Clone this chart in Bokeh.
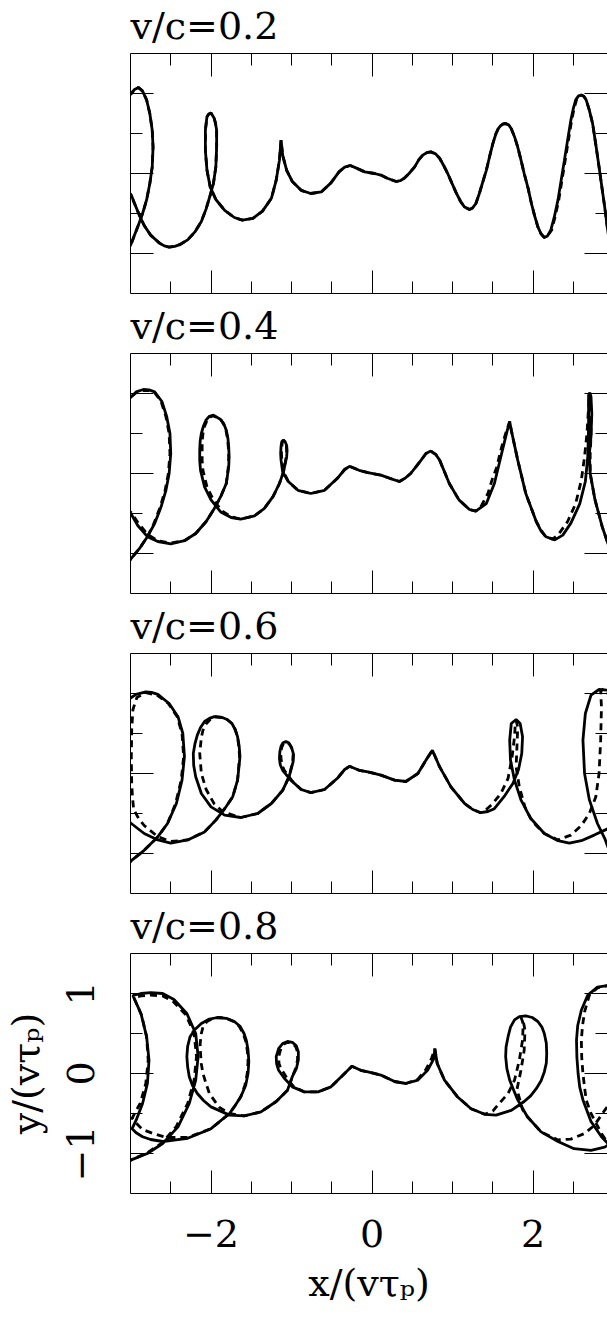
import math
from bokeh.plotting import figure
from bokeh.models import FixedTicker, LinearAxis, Range1d, Grid
from bokeh.layouts import column
from bokeh.embed import file_html
from bokeh.resources import INLINE

nan = float("nan")
NB = (nan, nan)  # break between visible pieces of a path

titles = ["v/c=0.2", "v/c=0.4", "v/c=0.6", "v/c=0.8"]
x_major = [-2, 0, 2]
x_minor = [-2.5, -1.5, -1, -0.5, 0.5, 1, 1.5, 2.5]
y_major = [-1, 0, 1]
y_minor = [-0.5, 0.5]
x_tick_labels = {-2: "\u22122", 0: "0", 2: "2"}
y_tick_labels = {-1: "\u22121", 0: "0", 1: "1"}
x_label = "x/(v\u03c4\u209a)"
y_label = "y/(v\u03c4\u209a)"

# ---- panel 1 (v/c=0.2) ----
p1_solid = [(-3.05,-1.0),(-2.99,-0.875),(-2.95,-0.77),(-2.91,-0.667),(-2.85,-0.5),(-2.80,-0.33),(-2.76,-0.125),(-2.73,0.083),(-2.72,0.33),(-2.73,0.54),(-2.76,0.75),(-2.80,0.92),(-2.85,1.03),(-2.90,1.075),(-2.95,1.05),(-2.99,1.0),(-3.05,0.95),
    NB,
    (-3.05,-0.2),(-2.99,-0.27),(-2.95,-0.375),(-2.89,-0.52),(-2.83,-0.65),(-2.75,-0.77),(-2.64,-0.87),(-2.58,-0.905),(-2.52,-0.92),(-2.45,-0.91),(-2.39,-0.89),(-2.29,-0.83),(-2.20,-0.73),(-2.12,-0.60),(-2.06,-0.44),(-2.01,-0.27),(-1.97,-0.125),(-1.94,0.083),(-1.93,0.33),(-1.93,0.54),(-1.945,0.63),(-1.96,0.69),(-2.00,0.755),(-2.03,0.74),(-2.05,0.71),(-2.07,0.54),(-2.07,0.29),(-2.05,0.04),(-2.01,-0.167),(-1.94,-0.325),(-1.83,-0.46),(-1.71,-0.55),(-1.61,-0.583),(-1.48,-0.56),(-1.36,-0.47),(-1.25,-0.31),(-1.19,-0.083),(-1.15,0.167),(-1.13,0.417),(-1.11,0.23),(-1.06,0.04),(-0.99,-0.10),(-0.88,-0.21),(-0.76,-0.25),(-0.63,-0.23),(-0.51,-0.117),(-0.41,0.02),(-0.34,0.08),(-0.27,0.10),(-0.20,0.07),(-0.09,0.02),(0.03,0.0),(0.11,-0.02),(0.19,-0.06),(0.30,-0.10),(0.35,-0.09),(0.40,-0.06),(0.46,0.0),(0.53,0.083),(0.58,0.17),(0.63,0.23),(0.68,0.26),(0.73,0.27),(0.79,0.245),(0.84,0.19),(0.89,0.10),(0.94,0.0),
    (1.04,-0.23),(1.10,-0.35),(1.15,-0.42),(1.21,-0.45),(1.25,-0.43),(1.29,-0.375),(1.33,-0.26),(1.37,-0.125),(1.42,0.04),(1.46,0.21),(1.50,0.37),(1.54,0.5),(1.57,0.565),(1.60,0.60),(1.63,0.62),(1.66,0.625),(1.70,0.605),(1.73,0.56),(1.77,0.46),(1.81,0.33),(1.85,0.17),(1.89,0.0),(1.94,-0.19),(1.98,-0.375),(2.02,-0.53),(2.06,-0.667),(2.10,-0.755),(2.14,-0.80),(2.18,-0.78),(2.22,-0.71),(2.265,-0.54),(2.31,-0.33),(2.35,-0.08),(2.39,0.167),(2.43,0.42),(2.47,0.667),(2.50,0.81),(2.53,0.92),(2.565,0.97),(2.60,0.98),(2.63,0.965),(2.66,0.92),(2.70,0.79),(2.74,0.625),(2.78,0.36),(2.82,0.083),(2.855,-0.17),(2.89,-0.417),(2.93,-0.73),(2.97,-0.95)]
p1_dashed = [(-3.05,-1.0),(-2.99,-0.875),(-2.95,-0.77),(-2.91,-0.667),(-2.85,-0.5),(-2.80,-0.33),(-2.76,-0.125),(-2.73,0.083),(-2.72,0.33),(-2.73,0.54),(-2.76,0.75),(-2.80,0.92),(-2.85,1.03),(-2.90,1.075),(-2.95,1.05),(-2.99,1.0),(-3.05,0.95),
    NB,
    (-3.05,-0.2),(-2.99,-0.27),(-2.95,-0.375),(-2.89,-0.52),(-2.83,-0.65),(-2.75,-0.77),(-2.64,-0.87),(-2.58,-0.905),(-2.52,-0.92),(-2.45,-0.91),(-2.39,-0.89),(-2.29,-0.83),(-2.20,-0.73),(-2.12,-0.60),(-2.06,-0.44),(-2.01,-0.27),(-1.97,-0.125),(-1.94,0.083),(-1.93,0.33),(-1.93,0.54),(-1.945,0.63),(-1.96,0.69),(-2.00,0.755),(-2.03,0.74),(-2.05,0.71),(-2.07,0.54),(-2.07,0.29),(-2.05,0.04),(-2.01,-0.167),(-1.94,-0.325),(-1.83,-0.46),(-1.71,-0.55),(-1.61,-0.583),(-1.48,-0.56),(-1.36,-0.47),(-1.25,-0.31),(-1.19,-0.083),(-1.15,0.167),(-1.13,0.417),(-1.11,0.23),(-1.06,0.04),(-0.99,-0.10),(-0.88,-0.21),(-0.76,-0.25),(-0.63,-0.23),(-0.51,-0.117),(-0.41,0.02),(-0.34,0.08),(-0.27,0.10),(-0.20,0.07),(-0.09,0.02),(0.03,0.0),(0.11,-0.02),(0.19,-0.06),(0.30,-0.10),(0.35,-0.09),(0.40,-0.06),(0.46,0.0),(0.53,0.083),(0.58,0.17),(0.63,0.23),(0.68,0.26),(0.73,0.27),(0.79,0.245),(0.84,0.19),(0.89,0.10),(0.94,0.0),
    (1.04,-0.23),(1.10,-0.35),(1.15,-0.42),(1.21,-0.45),(1.25,-0.43),(1.29,-0.375),(1.33,-0.26),(1.37,-0.125),(1.42,0.04),(1.46,0.21),(1.50,0.37),(1.54,0.5),(1.57,0.565),(1.60,0.60),(1.63,0.62),(1.66,0.625),(1.70,0.605),(1.73,0.56),(1.77,0.46),(1.81,0.33),(1.85,0.17),(1.89,0.0),(1.94,-0.19),(1.98,-0.375),(2.02,-0.53),(2.06,-0.667),(2.10,-0.755),(2.14,-0.80),(2.18,-0.78),(2.23,-0.71),(2.275,-0.54),(2.32,-0.33),(2.36,-0.08),(2.40,0.167),(2.44,0.42),(2.48,0.667),(2.51,0.81),(2.54,0.92),(2.57,0.97),(2.60,0.98),(2.63,0.965),(2.66,0.92),(2.70,0.79),(2.74,0.625),(2.78,0.36),(2.82,0.083),(2.855,-0.17),(2.89,-0.417),(2.93,-0.73),(2.97,-0.95)]

# ---- panel 2 (v/c=0.4) ----
p2_solid = [(-3.05,-1.15),(-2.99,-1.06),(-2.89,-0.94),(-2.79,-0.79),(-2.70,-0.625),(-2.62,-0.417),(-2.56,-0.21),(-2.52,0.0),(-2.50,0.25),(-2.51,0.5),(-2.55,0.71),(-2.61,0.90),(-2.70,1.02),(-2.77,1.045),(-2.84,1.05),(-2.93,1.02),(-2.99,0.96),(-3.05,0.9),
    NB,
    (-3.05,-0.45),(-2.99,-0.51),(-2.91,-0.65),(-2.79,-0.79),(-2.66,-0.85),(-2.50,-0.88),(-2.33,-0.84),(-2.19,-0.75),(-2.06,-0.60),(-1.96,-0.44),(-1.88,-0.29),(-1.81,-0.125),(-1.78,0.083),(-1.775,0.21),(-1.78,0.33),(-1.79,0.44),(-1.81,0.54),(-1.84,0.62),(-1.88,0.675),(-1.97,0.73),(-2.02,0.715),(-2.06,0.67),(-2.095,0.59),(-2.12,0.5),(-2.135,0.40),(-2.14,0.29),(-2.14,0.16),(-2.13,0.04),(-2.08,-0.167),(-2.00,-0.33),(-1.88,-0.48),(-1.75,-0.55),(-1.63,-0.57),(-1.46,-0.53),(-1.34,-0.44),(-1.23,-0.29),(-1.15,-0.125),(-1.10,0.02),(-1.06,0.21),(-1.055,0.29),(-1.06,0.35),(-1.08,0.40),(-1.10,0.417),(-1.12,0.40),(-1.13,0.34),(-1.135,0.25),(-1.13,0.167),(-1.11,0.02),(-1.04,-0.10),(-0.92,-0.21),(-0.76,-0.25),(-0.59,-0.21),(-0.43,-0.06),(-0.34,0.05),(-0.28,0.09),(-0.16,0.04),(-0.05,0.01),(0.11,-0.02),(0.22,-0.06),(0.34,-0.10),(0.41,-0.06),(0.48,0.0),(0.55,0.09),(0.61,0.167),(0.67,0.25),(0.73,0.28),(0.79,0.24),(0.84,0.167),(0.96,-0.125),(1.08,-0.33),(1.21,-0.45),(1.29,-0.47),(1.42,-0.375),(1.52,-0.125),(1.61,0.25),(1.68,0.54),(1.71,0.65),(1.73,0.54),(1.81,0.167),(1.91,-0.25),(2.04,-0.60),(2.10,-0.72),(2.16,-0.79),(2.27,-0.83),(2.37,-0.77),(2.47,-0.62),(2.58,-0.38),(2.65,-0.10),(2.68,0.21),(2.69,0.58),(2.69,0.83),(2.69,0.98),(2.705,1.01),(2.72,0.96),(2.73,0.75),(2.72,0.46),(2.70,0.25),(2.71,0.0),(2.77,-0.33),(2.86,-0.667),(2.93,-0.875),(2.97,-0.97)]
p2_dashed = [(-3.05,-1.15),(-2.99,-1.06),(-2.89,-0.94),(-2.79,-0.79),(-2.71,-0.625),(-2.63,-0.417),(-2.57,-0.21),(-2.53,0.0),(-2.51,0.25),(-2.52,0.5),(-2.56,0.71),(-2.62,0.90),(-2.70,1.01),(-2.77,1.035),(-2.84,1.04),(-2.93,1.01),(-2.99,0.96),(-3.05,0.9),
    NB,
    (-3.05,-0.43),(-2.99,-0.49),(-2.91,-0.61),(-2.79,-0.76),(-2.66,-0.84),(-2.50,-0.87),(-2.33,-0.84),(-2.19,-0.75),(-2.06,-0.60),(-1.96,-0.44),(-1.88,-0.29),(-1.81,-0.125),(-1.785,0.083),(-1.78,0.21),(-1.785,0.33),(-1.795,0.44),(-1.815,0.54),(-1.845,0.62),(-1.88,0.675),(-1.97,0.72),(-2.02,0.705),(-2.05,0.66),(-2.08,0.59),(-2.10,0.5),(-2.11,0.40),(-2.11,0.29),(-2.11,0.16),(-2.10,0.04),(-2.05,-0.167),(-1.97,-0.33),(-1.86,-0.47),(-1.75,-0.54),(-1.63,-0.57),(-1.46,-0.53),(-1.34,-0.44),(-1.23,-0.29),(-1.15,-0.125),(-1.10,0.02),(-1.065,0.21),(-1.06,0.29),(-1.065,0.35),(-1.08,0.395),(-1.10,0.41),(-1.115,0.39),(-1.12,0.34),(-1.125,0.25),(-1.12,0.167),(-1.10,0.02),(-1.04,-0.10),(-0.92,-0.21),(-0.76,-0.25),(-0.59,-0.21),(-0.43,-0.06),(-0.34,0.05),(-0.28,0.09),(-0.16,0.04),(-0.05,0.01),(0.11,-0.02),(0.22,-0.06),(0.34,-0.10),(0.41,-0.06),(0.48,0.0),(0.55,0.09),(0.61,0.167),(0.67,0.25),(0.73,0.28),(0.79,0.24),(0.84,0.167),(0.96,-0.125),(1.08,-0.33),(1.21,-0.45),(1.29,-0.47),(1.36,-0.40),(1.44,-0.25),(1.49,-0.083),(1.55,0.083),(1.61,0.33),(1.66,0.5),(1.70,0.62),(1.71,0.65),(1.73,0.54),(1.81,0.167),(1.91,-0.25),(2.04,-0.60),(2.10,-0.71),(2.15,-0.78),(2.24,-0.82),(2.31,-0.77),(2.43,-0.60),(2.53,-0.375),(2.60,-0.083),(2.64,0.21),(2.67,0.5),(2.69,0.83),(2.70,1.0),(2.71,0.96),(2.72,0.75),(2.72,0.46),(2.71,0.25),(2.71,0.0),(2.77,-0.33),(2.86,-0.667),(2.93,-0.875),(2.97,-0.97)]

# ---- panel 3 (v/c=0.6) ----
p3_solid = [(-3.05,-1.15),(-2.99,-1.09),(-2.83,-0.96),(-2.66,-0.79),(-2.54,-0.625),(-2.43,-0.375),(-2.36,-0.083),(-2.33,0.21),(-2.35,0.5),(-2.41,0.71),(-2.52,0.875),(-2.66,0.99),(-2.74,1.015),(-2.81,1.02),(-2.93,0.99),(-2.99,0.95),(-3.05,0.9),
    NB,
    (-3.05,-0.58),(-2.99,-0.625),(-2.83,-0.75),(-2.66,-0.83),(-2.50,-0.87),(-2.29,-0.83),(-2.08,-0.73),(-1.94,-0.583),(-1.83,-0.44),(-1.73,-0.29),(-1.67,-0.083),(-1.64,0.21),(-1.65,0.34),(-1.67,0.46),(-1.70,0.55),(-1.74,0.625),(-1.80,0.675),(-1.86,0.70),(-1.96,0.71),(-2.02,0.69),(-2.08,0.65),(-2.13,0.575),(-2.17,0.48),(-2.20,0.37),(-2.22,0.25),(-2.215,0.10),(-2.19,-0.04),(-2.12,-0.25),(-2.00,-0.417),(-1.83,-0.52),(-1.63,-0.55),(-1.42,-0.50),(-1.25,-0.375),(-1.11,-0.21),(-1.03,-0.04),(-0.98,0.146),(-0.975,0.24),(-1.00,0.33),(-1.03,0.38),(-1.07,0.40),(-1.105,0.385),(-1.13,0.34),(-1.145,0.27),(-1.15,0.19),(-1.14,0.11),(-1.11,0.04),(-1.01,-0.083),(-0.88,-0.20),(-0.76,-0.24),(-0.59,-0.20),(-0.43,-0.06),(-0.34,0.05),(-0.28,0.09),(-0.16,0.04),(-0.05,0.02),(0.11,-0.02),(0.28,-0.083),(0.42,-0.10),(0.57,0.0),(0.67,0.167),(0.75,0.29),(0.84,0.083),(0.98,-0.167),(1.15,-0.375),(1.25,-0.45),(1.35,-0.49),(1.44,-0.475),(1.52,-0.44),(1.64,-0.29),(1.75,-0.125),(1.82,0.05),(1.86,0.25),(1.87,0.46),(1.84,0.625),(1.79,0.675),(1.73,0.625),(1.71,0.417),(1.72,0.167),(1.77,-0.083),(1.85,-0.33),(1.97,-0.56),(2.14,-0.75),(2.31,-0.84),(2.45,-0.87),(2.60,-0.84),(2.76,-0.77),(2.93,-0.69),(2.97,-0.66),
    NB,
    (2.97,1.03),(2.93,1.04),(2.82,1.05),(2.72,0.98),(2.65,0.75),(2.62,0.417),(2.64,0.0),(2.70,-0.33),(2.80,-0.625),(2.89,-0.81),(2.93,-0.92),(2.97,-0.98)]
p3_dashed = [(-3.05,-1.15),(-2.99,-1.09),(-2.83,-0.96),(-2.66,-0.79),(-2.54,-0.625),(-2.44,-0.375),(-2.37,-0.083),(-2.34,0.21),(-2.36,0.5),(-2.42,0.71),(-2.53,0.875),(-2.67,0.98),(-2.81,1.01),(-2.92,0.95),(-2.97,0.8),(-2.985,0.54),(-2.99,0.2),(-2.985,-0.125),(-2.975,-0.3),(-2.96,-0.45),(-2.90,-0.56),(-2.83,-0.65),(-2.66,-0.79),(-2.50,-0.85),(-2.29,-0.83),(-2.08,-0.73),(-1.94,-0.583),(-1.83,-0.44),(-1.73,-0.29),(-1.67,-0.083),(-1.645,0.21),(-1.655,0.34),(-1.67,0.46),(-1.70,0.55),(-1.74,0.625),(-1.80,0.675),(-1.86,0.70),(-1.96,0.71),(-2.01,0.675),(-2.06,0.62),(-2.10,0.54),(-2.12,0.45),(-2.14,0.25),(-2.12,0.0),(-2.06,-0.2),(-1.96,-0.38),(-1.85,-0.48),(-1.63,-0.55),(-1.42,-0.50),(-1.25,-0.375),(-1.11,-0.21),(-1.03,-0.04),(-0.985,0.146),(-0.98,0.24),(-1.00,0.32),(-1.03,0.37),(-1.07,0.39),(-1.10,0.375),(-1.12,0.33),(-1.135,0.26),(-1.13,0.19),(-1.12,0.11),(-1.09,0.04),(-1.00,-0.083),(-0.88,-0.20),(-0.76,-0.24),(-0.59,-0.20),(-0.43,-0.06),(-0.34,0.05),(-0.28,0.09),(-0.16,0.04),(-0.05,0.02),(0.11,-0.02),(0.28,-0.083),(0.42,-0.10),(0.57,0.0),(0.67,0.167),(0.75,0.29),(0.84,0.083),(0.98,-0.167),(1.15,-0.375),(1.25,-0.45),(1.35,-0.49),(1.43,-0.44),(1.50,-0.375),(1.60,-0.25),(1.69,-0.06),(1.74,0.21),(1.77,0.46),(1.78,0.625),(1.79,0.66),(1.81,0.58),(1.80,0.33),(1.79,0.083),(1.83,-0.167),(1.90,-0.42),(1.99,-0.60),(2.14,-0.75),(2.31,-0.83),(2.47,-0.77),(2.60,-0.65),(2.70,-0.50),(2.78,-0.29),(2.82,0.0),(2.84,0.417),(2.85,0.83),(2.84,1.03),(2.88,1.06),(2.93,1.0),(2.97,0.9)]

# ---- panel 4 (v/c=0.8) ----
p4_solid = [(-3.05,-1.12),(-2.99,-1.08),(-2.79,-1.0),(-2.60,-0.875),(-2.41,-0.667),(-2.27,-0.375),(-2.19,-0.083),(-2.16,0.21),(-2.19,0.5),(-2.30,0.75),(-2.46,0.925),(-2.60,1.0),(-2.75,1.01),(-2.87,1.0),(-2.97,0.975),(-2.92,0.86),(-2.87,0.75),(-2.80,0.46),(-2.77,0.167),(-2.79,-0.125),(-2.85,-0.375),(-2.93,-0.583),(-2.98,-0.69),(-2.93,-0.74),(-2.85,-0.79),(-2.75,-0.825),(-2.60,-0.85),(-2.29,-0.81),(-2.00,-0.69),(-1.77,-0.5),(-1.70,-0.40),(-1.63,-0.29),(-1.57,-0.15),(-1.54,0.0),(-1.53,0.15),(-1.54,0.29),(-1.56,0.41),(-1.59,0.5),(-1.64,0.59),(-1.71,0.65),(-1.81,0.69),(-1.92,0.70),(-2.02,0.68),(-2.12,0.625),(-2.20,0.55),(-2.26,0.46),(-2.29,0.34),(-2.30,0.21),(-2.29,0.08),(-2.27,-0.04),(-2.23,-0.15),(-2.17,-0.25),(-2.09,-0.34),(-2.00,-0.417),(-1.77,-0.52),(-1.59,-0.53),(-1.38,-0.48),(-1.19,-0.35),(-1.05,-0.21),(-0.99,-0.04),(-0.94,0.06),(-0.915,0.17),(-0.915,0.27),(-0.94,0.345),(-0.99,0.39),(-1.05,0.40),(-1.11,0.375),(-1.16,0.31),(-1.19,0.21),(-1.185,0.12),(-1.16,0.04),(-1.09,-0.06),(-0.99,-0.167),(-0.84,-0.23),(-0.67,-0.23),(-0.51,-0.167),(-0.36,-0.02),(-0.25,0.09),(-0.14,0.04),(-0.05,0.02),(0.11,-0.02),(0.28,-0.10),(0.42,-0.125),(0.57,-0.083),(0.69,0.04),(0.77,0.19),(0.78,0.31),(0.81,0.125),(0.90,-0.083),(1.06,-0.29),(1.23,-0.44),(1.40,-0.51),(1.54,-0.52),(1.73,-0.46),(1.89,-0.35),(1.97,-0.28),(2.04,-0.19),(2.10,-0.09),(2.14,0.02),(2.165,0.13),(2.17,0.25),(2.165,0.38),(2.14,0.5),(2.11,0.58),(2.06,0.65),(1.99,0.70),(1.91,0.72),(1.83,0.71),(1.77,0.67),(1.72,0.58),(1.69,0.46),(1.665,0.33),(1.66,0.21),(1.675,0.06),(1.71,-0.083),(1.76,-0.21),(1.81,-0.33),(1.93,-0.54),(2.10,-0.73),(2.31,-0.85),(2.51,-0.94),(2.72,-0.96),(2.89,-0.92),(2.97,-0.87),
    NB,
    (2.97,1.12),(2.93,1.10),(2.80,1.08),(2.68,0.98),(2.60,0.79),(2.555,0.60),(2.54,0.417),(2.545,0.20),(2.56,0.0),(2.58,-0.17),(2.62,-0.33),(2.72,-0.60),(2.85,-0.79),(2.93,-0.875),(2.97,-0.9)]
p4_dashed = [(-3.05,-1.12),(-2.99,-1.08),(-2.79,-0.99),(-2.61,-0.87),(-2.43,-0.66),(-2.29,-0.375),(-2.21,-0.083),(-2.18,0.21),(-2.21,0.5),(-2.31,0.73),(-2.47,0.9),(-2.60,0.97),(-2.75,0.98),(-2.87,0.97),(-2.96,0.95),(-2.91,0.84),(-2.86,0.72),(-2.80,0.46),(-2.78,0.167),(-2.81,-0.125),(-2.88,-0.375),(-2.95,-0.50),(-2.98,-0.56),(-2.93,-0.62),(-2.85,-0.70),(-2.72,-0.75),(-2.55,-0.80),(-2.29,-0.80),(-2.00,-0.69),(-1.77,-0.5),(-1.70,-0.40),(-1.63,-0.29),(-1.58,-0.15),(-1.55,0.0),(-1.54,0.15),(-1.55,0.29),(-1.57,0.41),(-1.60,0.5),(-1.65,0.59),(-1.72,0.65),(-1.81,0.69),(-1.90,0.70),(-1.98,0.685),(-2.05,0.65),(-2.10,0.58),(-2.12,0.5),(-2.135,0.37),(-2.13,0.25),(-2.12,0.12),(-2.10,0.0),(-2.06,-0.13),(-2.02,-0.25),(-1.90,-0.42),(-1.77,-0.50),(-1.59,-0.53),(-1.38,-0.48),(-1.19,-0.35),(-1.05,-0.21),(-0.99,-0.04),(-0.95,0.06),(-0.925,0.17),(-0.925,0.27),(-0.95,0.34),(-1.00,0.38),(-1.05,0.39),(-1.10,0.365),(-1.13,0.32),(-1.16,0.21),(-1.155,0.12),(-1.13,0.06),(-1.05,-0.07),(-0.97,-0.167),(-0.84,-0.23),(-0.67,-0.23),(-0.51,-0.167),(-0.36,-0.02),(-0.25,0.09),(-0.14,0.04),(-0.05,0.02),(0.11,-0.02),(0.28,-0.10),(0.42,-0.125),(0.57,-0.07),(0.67,0.05),(0.74,0.19),(0.78,0.31),(0.81,0.125),(0.90,-0.083),(1.06,-0.29),(1.23,-0.44),(1.40,-0.51),(1.50,-0.47),(1.58,-0.375),(1.69,-0.25),(1.77,-0.083),(1.83,0.167),(1.87,0.417),(1.875,0.55),(1.87,0.65),(1.85,0.70),(1.88,0.65),(1.90,0.54),(1.89,0.29),(1.85,0.04),(1.80,-0.20),(1.87,-0.45),(1.93,-0.54),(2.10,-0.73),(2.31,-0.83),(2.47,-0.82),(2.64,-0.75),(2.76,-0.65),(2.89,-0.46),(2.97,-0.35),
    NB,
    (2.97,1.12),(2.93,1.10),(2.80,1.07),(2.70,0.98),(2.64,0.77),(2.615,0.60),(2.60,0.417),(2.605,0.20),(2.62,0.0),(2.64,-0.17),(2.66,-0.33),(2.72,-0.50),(2.85,-0.75),(2.93,-0.87),(2.97,-0.9)]

solid_sets = [p1_solid, p2_solid, p3_solid, p4_solid]
dashed_sets = [p1_dashed, p2_dashed, p3_dashed, p4_dashed]

FONT = "DejaVu Serif"
MAJOR_LEN = 23
MINOR_LEN = 12


def tick_only_axes(p, side, majors, minors, draw_line=True):
    """Ticks without any labels: two label-free axes that only carry
    'minor' ticks, one with the long and one with the short tick length."""
    long_ax = LinearAxis(ticker=FixedTicker(ticks=[], minor_ticks=majors))
    short_ax = LinearAxis(ticker=FixedTicker(ticks=[], minor_ticks=minors))
    for ax, ln in ((long_ax, MAJOR_LEN), (short_ax, MINOR_LEN)):
        ax.minor_tick_in = ln
        ax.minor_tick_out = 0
        ax.major_tick_in = 0
        ax.major_tick_out = 0
        ax.minor_tick_line_color = "black"
        ax.minor_tick_line_width = 1
        ax.major_label_standoff = 0
        ax.axis_line_color = None
    if draw_line:
        long_ax.axis_line_color = "black"
        long_ax.axis_line_width = 1
    p.add_layout(long_ax, side)
    p.add_layout(short_ax, side)


def labelled_axis(p, side, majors, minors, labels, vertical=False):
    ax = LinearAxis(ticker=FixedTicker(ticks=majors, minor_ticks=minors))
    ax.major_tick_in = MAJOR_LEN
    ax.major_tick_out = 0
    ax.minor_tick_in = MINOR_LEN
    ax.minor_tick_out = 0
    ax.major_tick_line_color = "black"
    ax.minor_tick_line_color = "black"
    ax.axis_line_color = "black"
    ax.axis_line_width = 1
    ax.major_label_overrides = labels
    ax.major_label_text_font = FONT
    ax.major_label_text_font_size = "38px"
    ax.major_label_text_color = "black"
    ax.axis_label_text_font = FONT
    ax.axis_label_text_font_style = "normal"
    ax.axis_label_text_font_size = "38px"
    ax.axis_label_text_color = "black"
    if vertical:
        ax.major_label_orientation = "vertical"
    p.add_layout(ax, side)
    return ax


def make_panel(i, bottom):
    p = figure(width=607, height=418 if bottom else 300,
               x_range=Range1d(-3, 2.925), y_range=Range1d(-1.5, 1.5),
               x_axis_location=None, y_axis_location=None,
               output_backend="svg", toolbar_location=None,
               min_border_left=130, min_border_right=0,
               min_border_top=53, min_border_bottom=125 if bottom else 7)
    p.outline_line_color = None
    p.background_fill_color = "white"
    p.border_fill_color = "white"
    for g in p.select(type=Grid):
        g.visible = False

    p.title.text = titles[i]
    p.title.text_font = FONT
    p.title.text_font_size = "38px"
    p.title.text_font_style = "normal"
    p.title.text_color = "black"
    p.title.align = "left"
    p.title.vertical_align = "top"
    p.title.offset = 0
    p.title.standoff = 7

    if bottom:
        xb = labelled_axis(p, "below", x_major, x_minor, x_tick_labels)
        xb.major_label_standoff = 26
        xb.axis_label = x_label
        xb.axis_label_standoff = 11
        yl = labelled_axis(p, "left", y_major, y_minor, y_tick_labels, vertical=True)
        yl.major_label_standoff = 37
        yl.axis_label = y_label
        yl.axis_label_standoff = 16
    else:
        tick_only_axes(p, "below", x_major, x_minor)
        tick_only_axes(p, "left", y_major, y_minor)
    tick_only_axes(p, "above", x_major, x_minor)
    tick_only_axes(p, "right", y_major, y_minor, draw_line=False)

    dx, dy = zip(*dashed_sets[i])
    sx, sy = zip(*solid_sets[i])
    p.line(list(dx), list(dy), line_color="black", line_width=2.8, line_dash="7 5")
    p.line(list(sx), list(sy), line_color="black", line_width=2.8)
    return p


panels = [make_panel(i, i == 3) for i in range(4)]
layout = column(*panels, spacing=0)
open("out.html", "w").write(file_html(layout, INLINE))
